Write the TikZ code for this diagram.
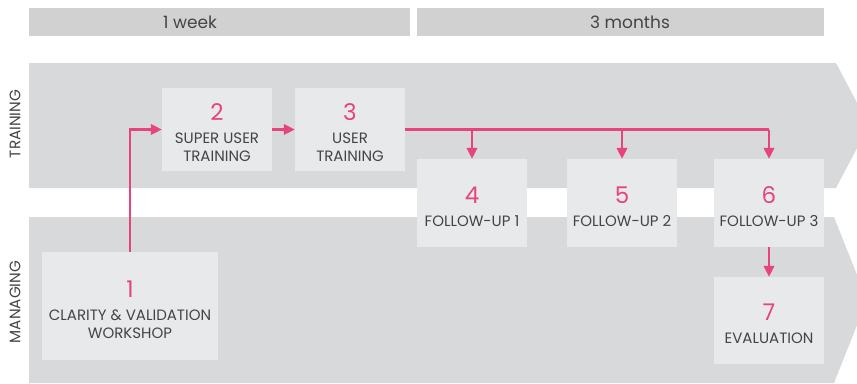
\documentclass[tikz,border=0pt]{standalone}
\usepackage{fontspec}
\setmainfont{Poppins}
\usetikzlibrary{arrows.meta}
\definecolor{band}{HTML}{D8D9DB}
\definecolor{boxc}{HTML}{E8E9EB}
\definecolor{hdr}{HTML}{D0D1D0}
\definecolor{pink}{HTML}{E6447A}
\definecolor{txt}{HTML}{444444}
\begin{document}
\begin{tikzpicture}[x=1pt,y=-1pt,
  stepbox/.style={fill=boxc, draw=none, inner sep=0pt, align=center, text=txt,
    font=\fontsize{15}{18}\selectfont},
  hdrtext/.style={text=txt, font=\fontsize{17}{18}\selectfont},
  side/.style={text=txt, font=\fontsize{15.2}{16}\selectfont, rotate=90},
  arr/.style={draw=pink, line width=2.2pt, -{Triangle[length=11pt,width=10.5pt]}},
  ln/.style={draw=pink, line width=2.2pt}]
\useasboundingbox (0,0) rectangle (857,383);
\clip (0,0) rectangle (857,383);
\newcommand{\num}[1]{\rule{0pt}{24pt}{\fontsize{23}{23}\selectfont\color{pink}#1}\\[5pt]}
% header bars
\fill[hdr] (29,8) rectangle (410,36);
\fill[hdr] (417,8) rectangle (824,36);
\node[hdrtext] (hw) at (190,22) {1 week};
\node[hdrtext] (hm) at (630,22) {3 months};
% bands
\fill[band] (29,63) -- (836,63) -- (869,125.5) -- (836,188) -- (29,188) -- cycle;
\fill[band] (29,217) -- (834,217) -- (867,300) -- (834,383) -- (29,383) -- cycle;
\node[side] (lt) at (15,124) {TRAINING};
\node[side] (lm) at (15,302) {MANAGING};
% boxes
\node[stepbox, minimum width=176pt, minimum height=108pt] (b1) at (130,306) {\num{1}CLARITY \& VALIDATION\\WORKSHOP};
\node[stepbox, minimum width=110pt, minimum height=83pt] (b2) at (217,129.5) {\num{2}SUPER USER\\TRAINING};
\node[stepbox, minimum width=110pt, minimum height=83pt] (b3) at (350,129.5) {\num{3}USER\\TRAINING};
\node[stepbox, minimum width=110pt, minimum height=88pt] (b4) at (472,203) {\num{4}FOLLOW-UP 1};
\node[stepbox, minimum width=110pt, minimum height=88pt] (b5) at (622,203) {\num{5}FOLLOW-UP 2};
\node[stepbox, minimum width=110pt, minimum height=88pt] (b6) at (769,203) {\num{6}FOLLOW-UP 3};
\node[stepbox, minimum width=110pt, minimum height=87pt] (b7) at (769,320.5) {\num{7}EVALUATION};
% connectors
\draw[arr] (b1.north) |- (b2.west);
\draw[arr] (b2.east) -- (b3.west);
\draw[ln] (b3.east) -- (b3.east -| b6.north);
\draw[arr] (b3.east -| b6.north) -- (b6.north);
\draw[arr] (b3.east -| b4.north) -- (b4.north);
\draw[arr] (b3.east -| b5.north) -- (b5.north);
\draw[arr] (b6.south) -- (b7.north);
\end{tikzpicture}
\end{document}
